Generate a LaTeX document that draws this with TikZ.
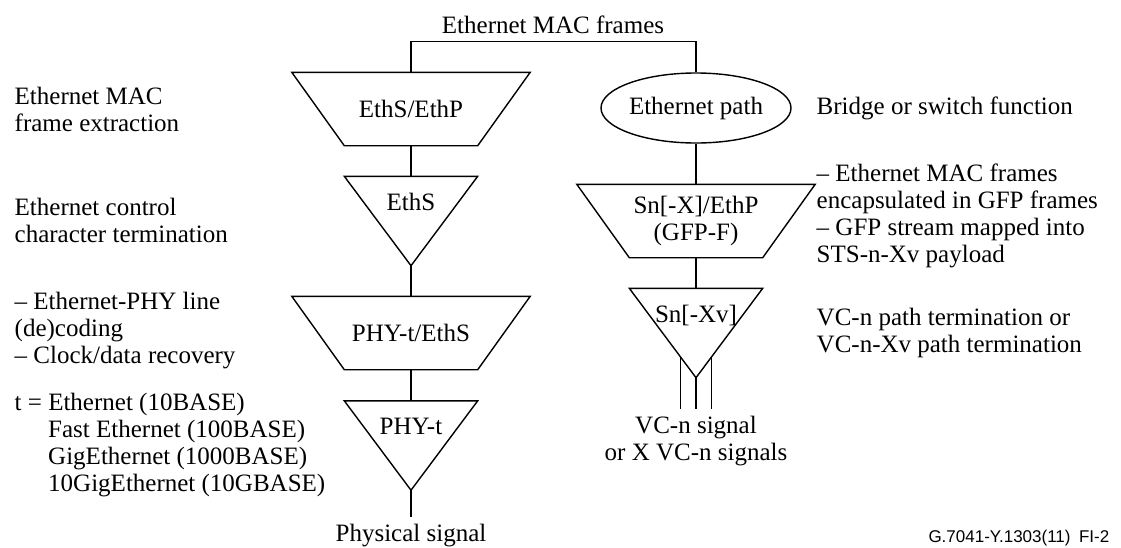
\documentclass[tikz,border=0pt]{standalone}
\usepackage{fontspec}
\setmainfont{Liberation Serif}
\newfontfamily\figfont{Liberation Sans}
\usetikzlibrary{positioning,shapes.geometric}

\begin{document}
\begin{tikzpicture}[x=1pt, y=-1pt, line width=1.4pt, font=\fontsize{25}{27}\selectfont, every node/.style={align=center}]
\tikzset{
  trap/.style={minimum width=237pt, minimum height=72pt, inner sep=0pt,
    append after command={\pgfextra{\draw (\tikzlastnode.north west) -- (\tikzlastnode.north east)
      -- ([xshift=-52.5pt]\tikzlastnode.south east) -- ([xshift=52.5pt]\tikzlastnode.south west) -- cycle;}}},
  tri/.style={minimum width=132pt, minimum height=88pt, inner sep=0pt, text height=17pt, text depth=39pt,
    append after command={\pgfextra{\draw (\tikzlastnode.north west) -- (\tikzlastnode.north east)
      -- (\tikzlastnode.south) -- cycle;}}},
  bridge/.style={draw, ellipse, minimum width=190pt, minimum height=70pt, inner sep=0pt},
  note/.style={anchor=west, align=left, inner sep=0pt},
  sig/.style={inner sep=6pt}
}
\useasboundingbox (0,0) rectangle (1121,547);

  % left column
  \node[trap] (ethsp) at (411,109) {EthS/EthP};
  \node[tri] (eths) at (411,221) {EthS};
  \node[trap] (phyeths) at (411,333) {PHY-t/EthS};
  \node[tri] (phyt) at (411,445.5) {PHY-t};
  \node[sig, anchor=base] (physig) at (411,541) {Physical signal};

  % right column
  \node[bridge] (ethpath) at (696,108) {Ethernet path};
  \node[trap] (snethp) at (696,221) {Sn[-X]/EthP\\(GFP-F)};
  \node[tri] (snxv) at (696,333) {Sn[-Xv]};
  \node[sig, anchor=north] (vcn) at (696,409) {VC-n signal\\or X VC-n signals};

  \node[inner sep=7pt] (macframes) at (553,25) {Ethernet MAC frames};

  \draw (ethsp) |- (macframes.south) -| (ethpath);
  \draw (ethsp) -- (eths);
  \draw (eths) -- (phyeths);
  \draw (phyeths) -- (phyt);
  \draw (phyt) -- (physig);
  \draw (ethpath) -- (snethp);
  \draw (snethp) -- (snxv);
  \draw (snxv.south) -- (vcn.north);
  \foreach \dx in {-15.5,15.5}
    \draw ([xshift=\dx pt, yshift=20.7pt]snxv.south) -- ([xshift=\dx pt]vcn.north);

  % descriptions
  \node[note] (extract) at (14,109) {Ethernet MAC\\frame extraction};
  \node[note] (ctrl) at (14,220) {Ethernet control\\character termination};
  \node[note] (coding) at (14,331) {\textendash{} Ethernet-PHY line\\(de)coding\\\textendash{} Clock/data recovery};
  \node[note] (tlist) at (14,445) {t = Ethernet (10BASE)\\\phantom{t = }Fast Ethernet (100BASE)\\\phantom{t = }GigEthernet (1000BASE)\\\phantom{t = }10GigEthernet (10GBASE)};
  \node[note] (switch) at (816,108) {Bridge or switch function};
  \node[note] (gfp) at (816,216) {\textendash{} Ethernet MAC frames\\encapsulated in GFP frames\\\textendash{} GFP stream mapped into\\STS-n-Xv payload};
  \node[note] (vcterm) at (816,333) {VC-n path termination or\\VC-n-Xv path termination};

  \node[anchor=east, inner sep=0pt, font=\figfont\fontsize{17}{19}\selectfont] (figid) at (1110,538) {G.7041-Y.1303(11)\enspace FI-2};
\end{tikzpicture}
\end{document}
